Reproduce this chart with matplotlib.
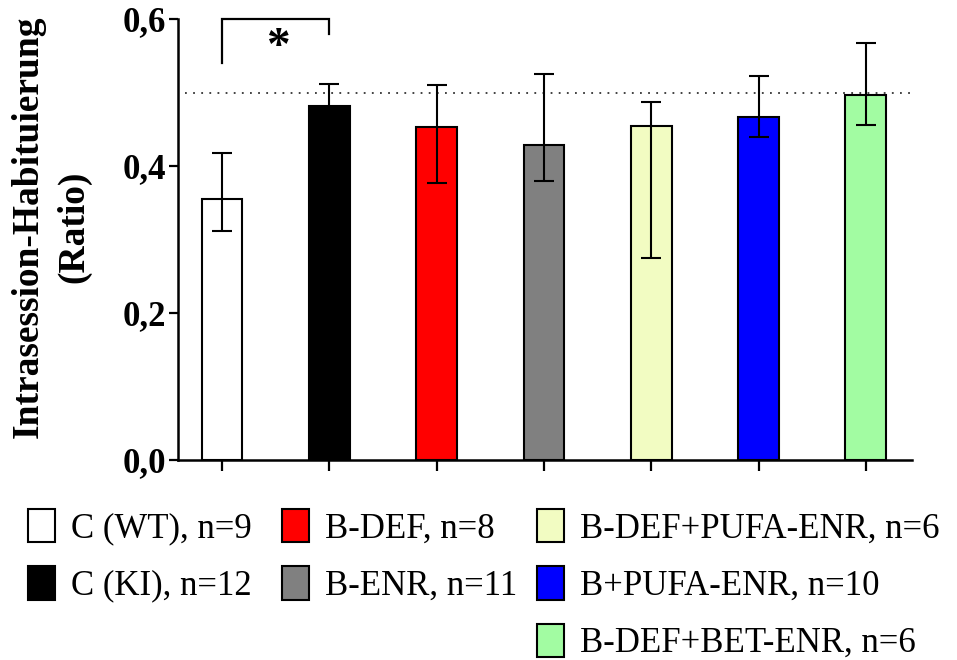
import matplotlib
matplotlib.use("Agg")
import matplotlib.pyplot as plt
import numpy as np

# ---- data ----
categories = ["C (WT), n=9", "C (KI), n=12", "B-DEF, n=8", "B-ENR, n=11",
              "B-DEF+PUFA-ENR, n=6", "B+PUFA-ENR, n=10", "B-DEF+BET-ENR, n=6"]
values = [0.355, 0.481, 0.453, 0.429, 0.454, 0.467, 0.496]
err_low = [0.312, 0.455, 0.377, 0.380, 0.275, 0.440, 0.456]
err_high = [0.418, 0.512, 0.510, 0.525, 0.487, 0.523, 0.568]
colors = ["#FFFFFF", "#000000", "#FF0000", "#808080", "#F2FCC2", "#0000FF", "#A2FCA2"]
ytick_values = [0.0, 0.2, 0.4, 0.6]
ytick_labels = ["0,0", "0,2", "0,4", "0,6"]
reference_level = 0.5
sig_pair = (0, 1)
sig_label = "*"
ylabel_text = "Intrasession-Habituierung\n(Ratio)"

serif = ["Liberation Serif", "DejaVu Serif"]

fig = plt.figure(figsize=(9.57, 6.6), dpi=100)
ax = fig.add_axes([178/957, 1-460/660, (912-178)/957, (460-19)/660])

x = np.arange(len(categories))
vals = np.array(values)
yerr = np.array([vals - np.array(err_low), np.array(err_high) - vals])

bars = ax.bar(x, vals, width=0.38, color=colors, edgecolor="black",
              linewidth=1.5, zorder=2)
ax.errorbar(x, vals, yerr=yerr, fmt="none", ecolor="black", elinewidth=1.5,
            capsize=7, capthick=1.5, zorder=3)

# dotted reference line
ax.axhline(reference_level, xmin=0.01, xmax=1.0, color="#333333", lw=1.3,
           linestyle=(0, (1, 3.5)), zorder=1)

ax.set_xlim(-0.41, 6.43)
ax.set_ylim(0, 0.6)
ax.set_xticks(x)
ax.set_xticklabels([])
ax.set_yticks(ytick_values)
ax.set_yticklabels(ytick_labels, fontfamily=serif, fontweight="bold", fontsize=25)
ax.tick_params(axis="y", direction="out", length=6.5, width=1.6, pad=2)
ax.tick_params(axis="x", direction="out", length=8, width=1.6)
for s in ["top", "right"]:
    ax.spines[s].set_visible(False)
for s in ["left", "bottom"]:
    ax.spines[s].set_linewidth(1.8)

# significance bracket
x0, x1 = sig_pair
ax.plot([x0, x0, x1, x1], [0.540, 0.6, 0.6, 0.58], color="black", lw=1.6,
        clip_on=False, zorder=4, solid_joinstyle="miter")
ax.text((x0 + x1) / 2 + 0.02, 0.545, sig_label, ha="center", va="baseline",
        fontsize=34, fontweight="bold", family=serif, clip_on=False)

# y label
fig.text(51/957, 1-227/660, ylabel_text, rotation=90, ha="center", va="center",
         multialignment="center", fontsize=27, fontweight="bold", family=serif,
         linespacing=1.4)

# legends: three columns
handles = list(bars.patches)
groups = [[0, 1], [2, 3], [4, 5, 6]]
col_x = [28/957, 282/957, 537/957]
for g, cx in zip(groups, col_x):
    fig.legend([handles[i] for i in g], [categories[i] for i in g],
               loc="upper left", bbox_to_anchor=(cx, 1-509/660),
               bbox_transform=fig.transFigure, frameon=False,
               prop={"family": serif, "size": 25},
               handlelength=0.78, handleheight=1.1, handletextpad=0.45,
               labelspacing=0.6, borderpad=0, borderaxespad=0)

fig.savefig("out.png", dpi=100)
